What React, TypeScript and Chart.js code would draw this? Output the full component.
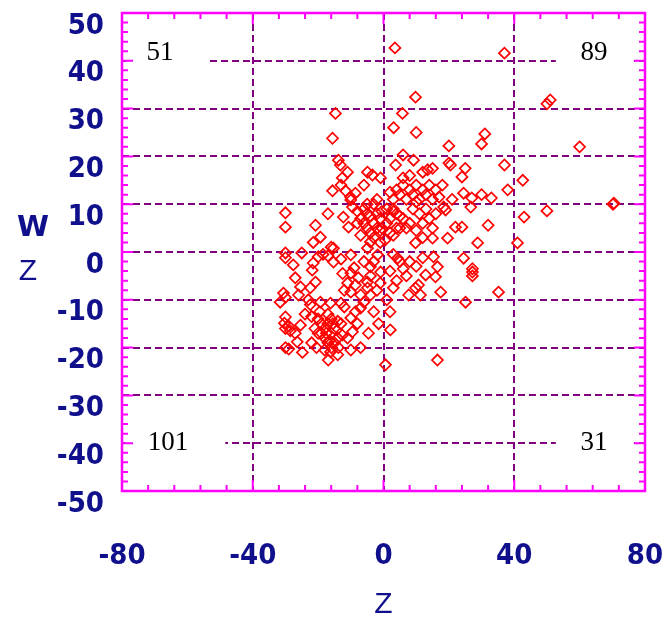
import React, { useEffect, useRef } from "react";
import { Chart, registerables } from "chart.js";

Chart.register(...registerables);

// Scatter data (Z on x-axis, W on y-axis)
const zTopRight = [3.5, 37, 9.8, 5.8, 3.1, 10, 31, 30, 20, 50, 51, 60, 6, 9.2, 3.7, 20, 20.5, 13.5, 15, 12, 25, 24, 37, 24.5, 27, 30, 33, 38, 42.6, 18.4, 19, 26.7, 22, 24, 32, 43, 70.2, 70.5, 50, 41, 28.8, 19.6, 15, 9.8, 4, 5, 6, 7, 8, 9, 10, 11, 12, 13, 14, 15, 16, 6, 8, 10, 3, 2, 17, 18, 3, 4, 6, 8, 9, 11, 12, 13, 14, 15, 16, 7, 10, 5, 2, 1, 1, 2, 3, 0.5, 4, 5, 3, 21, 12];
const wTopRight = [42.7, 41.6, 32.4, 29, 26, 25, 24.7, 22.6, 22.2, 31, 31.8, 22, 20.3, 19.2, 18.2, 18.6, 18.2, 17.2, 17.5, 16.7, 17.5, 15.7, 18.2, 12.3, 11.3, 12, 11.3, 13, 15, 9.4, 8.8, 9.4, 5.2, 5.2, 5.6, 7.3, 10, 10.2, 8.6, 1.9, 1.9, 2.9, 2.9, 1.9, 13, 12, 14, 11, 13, 12, 14, 11, 13, 12, 14, 11, 13, 15.5, 16, 10.5, 11, 12.5, 11.5, 14, 9, 8, 7, 6, 9, 8, 6, 9, 7, 5, 8, 5, 4.5, 5, 7, 6, 9, 4, 3.5, 2.5, 5, 7.5, 8.5, 11, 3];

const zTopLeft = [-14.7, -15.6, -13.8, -13.2, -11, -12.6, -15.6, -11.6, -10.1, -8.6, -4.9, -3.4, -0.9, -10, -9.5, -30, -30, -20.8, -19.3, -12.3, -10.7, -21.5, -15.3, -6, -5, -4, -3, -2, -1, -0.5, -2, -1, -0.5, -5, -4, -3, -6, -7, -8, -5, -1, -3, -2, -8, -4.9, -4, -7, -16, -13, -6, -17];
const wTopLeft = [29, 23.8, 19.2, 18.2, 16.7, 15.5, 12.8, 12.8, 11.5, 12.3, 16.7, 16.1, 15.5, 10.9, 9.4, 8.2, 5.2, 5.6, 3.1, 7.3, 5.2, 2, 0.8, 9, 8, 7.5, 6, 5, 4.5, 5, 8, 7, 8.5, 5, 4, 3, 6, 7, 8.5, 10, 2, 10, 11, 6, 0.8, 2.1, 3.5, 1, 14, 14, 8];

const zBottomLeft = [-30, -30, -25, -21.5, -21.8, -20, -18.5, -15.3, -17, -27, -25.4, -22.4, -20.8, -30.6, -30, -31.6, -30, -30.3, -30, -29, -28.5, -30, -29, -25.4, -26.4, -24.8, -22.4, -19.3, -16.2, -13, -12, -20, -19, -18, -17, -16, -15, -14, -18, -17, -16, -15, -19, -13, -20, -14, -17, -16, -18, -17.5, -16.5, -15.5, -19.5, -21, -10, -8.6, -7, -4, -9.5, -12.6, -13.8, -16.2, -16.9, -10, -7, -4.6, -7.7, -10, -11, -8.6, -9, -12.5, -4, -3, -1.8, -4.9, -4, -0.9, -7, -4.9, -10, -27.6, -10, -23, -26, -24, -22, -22, -20.5, -12, -6, -2, -1, -3, -1.5, -8, -11, -14, -6, -13, -27];
const wBottomLeft = [-0.2, -1.2, -0.2, -2.3, -3.8, -1, -0.5, -2.1, -0.8, -5.4, -7.3, -7.5, -6.3, -8.6, -9.5, -10.5, -13.6, -14.9, -16, -15.5, -16.5, -20, -20.3, -15.3, -18.8, -21, -11, -10.5, -10.7, -10.7, -11.5, -14, -15, -16, -15, -17, -16, -18, -18, -19, -14, -19, -17, -15, -17, -14.5, -13, -20, -20.5, -17, -18.5, -15, -12.5, -16, -13.8, -12.5, -11.7, -9, -16.7, -17.4, -20, -20.9, -22.6, -20.5, -20, -17, -5.4, -4.4, -6.5, -6.9, -3.3, -4.5, -3.1, -2, -0.6, -6.3, -5, -4.2, -9, -7.5, -8.4, -2.7, -0.6, -10, -9, -13, -13.5, -19, -20, -8, -10.5, -8, -6.5, -12.5, -15, -15, -18, -21.5, -2, -1.5, -17];

const zBottomRight = [4.3, 3, 5, 6, 2, 7, 4, 3, 12, 15.3, 16.5, 15.9, 12.9, 10.7, 9.8, 7.7, 17.5, 11.3, 24.5, 27.2, 27.2, 27.2, 25.1, 35.2, 2.1, 16.5, 0.6, 8, 1, 2, 10];
const wBottomRight = [-1.3, -0.5, -2, -3.5, -4, -5, -6, -7.5, -1.2, -1, -3.1, -5.2, -4.8, -6.9, -7.5, -9, -8.4, -9, -1.3, -4.2, -3.5, -5, -10.5, -8.4, -16.3, -22.6, -23.6, -2, -10, -12.5, -3];

const zValues = [...zTopRight, ...zTopLeft, ...zBottomLeft, ...zBottomRight];
const wValues = [...wTopRight, ...wTopLeft, ...wBottomLeft, ...wBottomRight];

// Axes
const xTickValues = [-80, -40, 0, 40, 80];
const yTickValues = [50, 40, 30, 20, 10, 0, -10, -20, -30, -40, -50];

// Quadrant counts: text, text position (value coords), box (value coords)
const quadrantTexts = ["51", "89", "101", "31"];
const quadrantTextX = [-68.4, 64.4, -65.9, 64.4];
const quadrantTextY = [41.6, 41.6, -40, -40];
const quadrantBoxX0 = [-78.5, 52.7, -79, 52.7];
const quadrantBoxX1 = [-54.3, 76.6, -48.4, 76.6];
const quadrantBoxY0 = [47.1, 47.1, -34.9, -34.9];
const quadrantBoxY1 = [36.6, 36.6, -45, -45];

const NAVY = "#10108c";
const TICK_FONT = "'DejaVu Sans Condensed', 'Liberation Sans Narrow', 'DejaVu Sans', sans-serif";

const quadrantPlugin = {
  id: "quadrantLabels",
  beforeDatasetsDraw(chart: any) {
    const { ctx, scales } = chart;
    const x = scales.x;
    const y = scales.y;
    ctx.save();
    for (let i = 0; i < quadrantTexts.length; i++) {
      const bx0 = x.getPixelForValue(quadrantBoxX0[i]);
      const bx1 = x.getPixelForValue(quadrantBoxX1[i]);
      const by0 = y.getPixelForValue(quadrantBoxY0[i]);
      const by1 = y.getPixelForValue(quadrantBoxY1[i]);
      ctx.fillStyle = "#ffffff";
      ctx.fillRect(bx0, by0, bx1 - bx0, by1 - by0);
      ctx.fillStyle = "#000000";
      ctx.font = "27px 'Liberation Serif', 'DejaVu Serif', serif";
      ctx.textAlign = "center";
      ctx.textBaseline = "middle";
      ctx.fillText(quadrantTexts[i], x.getPixelForValue(quadrantTextX[i]), y.getPixelForValue(quadrantTextY[i]));
    }
    ctx.restore();
  },
};

const framePlugin = {
  id: "frameTicks",
  afterDatasetsDraw(chart: any) {
    const { ctx, chartArea: a, scales } = chart;
    const x = scales.x;
    const y = scales.y;
    ctx.save();
    ctx.strokeStyle = "#ff00ff";
    ctx.lineWidth = 2;
    ctx.beginPath();
    for (let v = -80; v <= 80; v += 8) {
      const px = x.getPixelForValue(v);
      const len = v % 40 === 0 ? 11 : 6;
      ctx.moveTo(px, a.top);
      ctx.lineTo(px, a.top + len);
      ctx.moveTo(px, a.bottom);
      ctx.lineTo(px, a.bottom - len);
    }
    for (let v = -50; v <= 50; v += 2) {
      const py = y.getPixelForValue(v);
      const len = v % 10 === 0 ? 11 : 6;
      ctx.moveTo(a.left, py);
      ctx.lineTo(a.left + len, py);
      ctx.moveTo(a.right, py);
      ctx.lineTo(a.right - len, py);
    }
    ctx.stroke();
    ctx.lineWidth = 2.5;
    ctx.strokeRect(a.left, a.top, a.right - a.left, a.bottom - a.top);
    // Y-axis title: W over Z
    ctx.fillStyle = NAVY;
    ctx.textAlign = "center";
    ctx.textBaseline = "middle";
    ctx.font = "bold 29px 'DejaVu Sans', sans-serif";
    ctx.fillText("W", 33, 228);
    ctx.font = "30px 'Liberation Sans', 'DejaVu Sans', sans-serif";
    ctx.fillText("Z", 28, 272);
    ctx.restore();
  },
};

export default function App() {
  const canvasRef = useRef<HTMLCanvasElement | null>(null);

  useEffect(() => {
    if (!canvasRef.current) return;
    const points = zValues.map((z, i) => ({ x: z, y: wValues[i] }));
    const gridColor = (ctx: any) => {
      const v = ctx.tick ? ctx.tick.value : 0;
      return v === -80 || v === 80 || v === -50 || v === 50 ? "rgba(0,0,0,0)" : "#800080";
    };
    const chart = new Chart(canvasRef.current, {
      type: "scatter",
      data: {
        datasets: [
          {
            data: points,
            pointStyle: "rectRot",
            pointRadius: 5.5,
            borderWidth: 1.7,
            borderColor: "#ff0000",
            backgroundColor: "rgba(0,0,0,0)",
          },
        ],
      },
      options: {
        animation: false,
        responsive: false,
        layout: { padding: { top: 13, right: 18, left: 0, bottom: 0 } },
        plugins: { legend: { display: false }, tooltip: { enabled: false } },
        scales: {
          x: {
            type: "linear",
            min: -80,
            max: 80,
            afterBuildTicks: (scale: any) => {
              scale.ticks = xTickValues.map((v) => ({ value: v }));
            },
            afterFit: (scale: any) => {
              scale.height = 130;
              scale.paddingLeft = 0;
              scale.paddingRight = 0;
            },
            ticks: {
              color: NAVY,
              font: { family: TICK_FONT, size: 29, weight: "bold" },
              padding: 48,
              maxRotation: 0,
              autoSkip: false,
            },
            grid: { color: gridColor, lineWidth: 2, drawTicks: false },
            border: { display: false, dash: [7, 4] },
            title: {
              display: true,
              text: "Z",
              color: NAVY,
              font: { family: "'Liberation Sans', 'DejaVu Sans', sans-serif", size: 30, lineHeight: 1 },
              padding: { top: 0, bottom: 1 },
            },
          },
          y: {
            type: "linear",
            min: -50,
            max: 50,
            afterBuildTicks: (scale: any) => {
              scale.ticks = yTickValues.map((v) => ({ value: v }));
            },
            afterFit: (scale: any) => {
              scale.width = 122;
              scale.paddingTop = 0;
              scale.paddingBottom = 0;
            },
            ticks: {
              color: NAVY,
              font: { family: TICK_FONT, size: 29, weight: "bold" },
              padding: 18,
              labelOffset: 13,
              autoSkip: false,
            },
            grid: { color: gridColor, lineWidth: 2, drawTicks: false },
            border: { display: false, dash: [7, 4] },
          },
        },
      },
      plugins: [quadrantPlugin, framePlugin],
    });
    return () => chart.destroy();
  }, []);

  return (
    <div style={{ position: "absolute", left: 0, top: 0, width: 663, height: 621, background: "#ffffff" }}>
      <canvas ref={canvasRef} width={663} height={621} style={{ display: "block" }} />
    </div>
  );
}
